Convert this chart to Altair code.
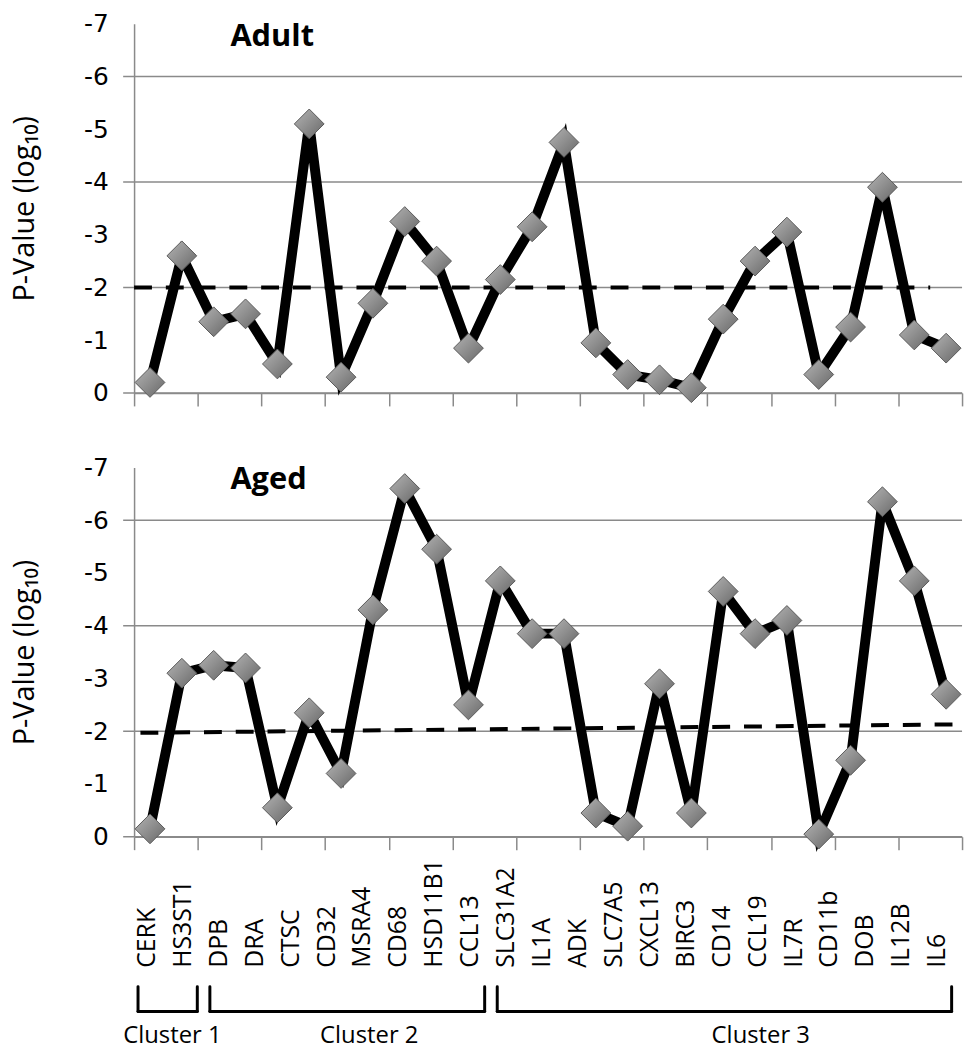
import altair as alt
import pandas as pd

# ---------------- data ----------------
n_slots = 26
adult_values = [-0.2, -2.6, -1.35, -1.5, -0.55, -5.1, -0.3, -1.7, -3.25, -2.5, -0.85, -2.15, -3.15,
                -4.75, -0.95, -0.35, -0.25, -0.1, -1.4, -2.5, -3.05, -0.35, -1.25, -3.9, -1.1, -0.85]
aged_values = [-0.15, -3.1, -3.25, -3.2, -0.55, -2.35, -1.2, -4.3, -6.6, -5.45, -2.5, -4.85, -3.85,
               -3.85, -0.45, -0.2, -2.9, -0.45, -4.65, -3.85, -4.1, -0.05, -1.45, -6.35, -4.85, -2.7]

# dashed significance lines (x in slot units, y in log10 p)
adult_thr_x = [0.0, 25.0]
adult_thr_y = [-2.0, -2.0]
aged_thr_x = [0.2, 25.8]
aged_thr_y = [-1.97, -2.13]

y_tick_values = [-7, -6, -5, -4, -3, -2, -1, 0]
grid_values = [-6, -4, -2, 0]

genes = ["CERK", "HS3ST1", "DPB", "DRA", "CTSC", "CD32", "MSRA4", "CD68", "HSD11B1", "CCL13",
         "SLC31A2", "IL1A", "ADK", "SLC7A5", "CXCL13", "BIRC3", "CD14", "CCL19", "IL7R", "CD11b",
         "DOB", "IL12B", "IL6"]
cluster_names = ["Cluster 1", "Cluster 2", "Cluster 3"]
cluster_first = ["CERK", "DPB", "SLC31A2"]
cluster_last = ["HS3ST1", "CCL13", "IL6"]

panel_names = ["Adult", "Aged"]

# ---------------- styling ----------------
FONT = "Open Sans, DejaVu Sans"
TICKFONT = "DejaVu Sans"
GRAY = "#8a8a8a"
W = 834
H = 372

diamond_fill = alt.LinearGradient(
    gradient="linear", x1=0, y1=0, x2=1, y2=1,
    stops=[alt.GradientStop(color="#b4b4b4", offset=0),
           alt.GradientStop(color="#8e8e8e", offset=0.5),
           alt.GradientStop(color="#666666", offset=1)])


def panel(values, thr_x, thr_y, name):
    df = pd.DataFrame({"slot": [i + 0.5 for i in range(len(values))], "p": values})
    thr = pd.DataFrame({"slot": thr_x, "p": thr_y})
    grid = pd.DataFrame({"g": grid_values})
    lab = pd.DataFrame({"t": [name]})

    xs = alt.Scale(domain=[0, n_slots], nice=False, zero=False)
    ys = alt.Scale(domain=[-7, 0], reverse=True, nice=False, zero=False)

    x = alt.X("slot:Q", scale=xs,
              axis=alt.Axis(values=list(range(n_slots + 1)), labels=False, title=None, grid=False,
                            tickSize=13, tickColor=GRAY, tickWidth=1.5, domainColor=GRAY,
                            domainWidth=1.5))
    y = alt.Y("p:Q", scale=ys,
              axis=alt.Axis(values=y_tick_values, title="P-Value (log\u2081\u2080)", grid=False,
                            ticks=False, labelFontSize=25, labelFont=TICKFONT, labelColor="black",
                            labelExpr="toString(datum.value)",
                            labelPadding=26, titleFont=FONT, titleFontSize=29,
                            titleFontWeight="normal", titleColor="black", titlePadding=44,
                            domainColor=GRAY, domainWidth=1.5, labelFlush=False))

    grid_rules = alt.Chart(grid).mark_rule(color=GRAY, strokeWidth=1.5).encode(
        y=alt.Y("g:Q", scale=ys), x=alt.value(-11), x2=alt.value(W))
    dashed = alt.Chart(thr).mark_line(color="black", strokeWidth=4, strokeDash=[18, 14]).encode(
        x=alt.X("slot:Q", scale=xs), y=alt.Y("p:Q", scale=ys))
    line = alt.Chart(df).mark_line(color="black", strokeWidth=10, strokeJoin="miter").encode(x=x, y=y)
    pts = alt.Chart(df).mark_point(shape="diamond", size=900, filled=True, fill=diamond_fill,
                                   stroke="#5a5a5a", strokeWidth=1, opacity=1).encode(
        x=alt.X("slot:Q", scale=xs), y=alt.Y("p:Q", scale=ys))
    title = alt.Chart(lab).mark_text(font=FONT, fontSize=31, fontWeight="bold", align="left",
                                     baseline="middle", color="black").encode(
        text="t:N", x=alt.value(97), y=alt.value(13))
    return alt.layer(grid_rules, dashed, line, pts, title).properties(width=W, height=H)


top = panel(adult_values, adult_thr_x, adult_thr_y, panel_names[0])
bottom = panel(aged_values, aged_thr_x, aged_thr_y, panel_names[1])

# ---------------- gene labels and cluster brackets ----------------
gene_df = pd.DataFrame({"gene": genes, "idx": list(range(len(genes)))})
pos = {g: i for i, g in enumerate(genes)}
cl_df = pd.DataFrame({
    "name": cluster_names,
    "lo": [pos[f] - 0.25 for f in cluster_first],
    "hi": [pos[l] + 0.4 for l in cluster_last],
})
cl_df["mid"] = cl_df["lo"] + 0.58 * (cl_df["hi"] - cl_df["lo"])

SH = 180
ss = alt.Scale(domain=[-0.36, 22.69], nice=False, zero=False)
TXT_Y = 114

gene_text = alt.Chart(gene_df).mark_text(font=FONT, fontSize=25, angle=270, align="left",
                                         baseline="middle", color="black").encode(
    x=alt.X("idx:Q", scale=ss, axis=None), y=alt.value(TXT_Y), text="gene:N")
hbar = alt.Chart(cl_df).mark_rule(color="black", strokeWidth=3, strokeCap="round").encode(
    x=alt.X("lo:Q", scale=ss, axis=None), x2="hi:Q", y=alt.value(TXT_Y + 44))
lbar = alt.Chart(cl_df).mark_rule(color="black", strokeWidth=3, strokeCap="round").encode(
    x=alt.X("lo:Q", scale=ss, axis=None), y=alt.value(TXT_Y + 19), y2=alt.value(TXT_Y + 44))
rbar = alt.Chart(cl_df).mark_rule(color="black", strokeWidth=3, strokeCap="round").encode(
    x=alt.X("hi:Q", scale=ss, axis=None), y=alt.value(TXT_Y + 19), y2=alt.value(TXT_Y + 44))
cl_text = alt.Chart(cl_df).mark_text(font=FONT, fontSize=24, align="center", baseline="middle",
                                     color="black").encode(
    x=alt.X("mid:Q", scale=ss, axis=None), y=alt.value(TXT_Y + 69), text="name:N")
strip = alt.layer(gene_text, hbar, lbar, rbar, cl_text).properties(width=W, height=SH)

lower = alt.vconcat(bottom, strip, spacing=0)
chart = alt.vconcat(top, lower, spacing=48).configure_view(stroke=None).properties(
    padding={"left": 3, "top": 0, "right": 3, "bottom": 0}, background="white")

chart.save("out.html", embed_options={"renderer": "svg", "actions": False})
